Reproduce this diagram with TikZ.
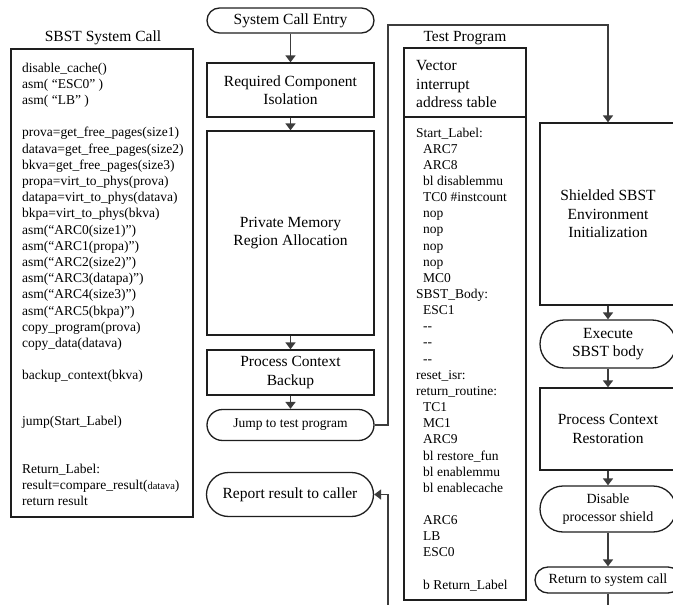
\documentclass[tikz,border=0pt]{standalone}
\usepackage{fontspec}
\setmainfont{Liberation Serif}
\usetikzlibrary{arrows.meta}
\definecolor{conngray}{HTML}{3C3C3C}
\definecolor{boxline}{HTML}{1E1E1E}
\newcommand\scline[3]{\node[code] (s#1) at (22,#2) {#3};}
\newcommand\tpline[3]{\node[code] (t#1) at (#2,{137+16.15*#1}) {#3};}
\begin{document}
\begin{tikzpicture}[x=1pt,y=-1pt,
  box/.style={draw=boxline, line width=1.3pt, fill=white, minimum width=167pt, inner sep=2pt, align=center, font=\fontsize{15.5}{18.5}\selectfont},
  term/.style={box},
  conn/.style={draw=conngray, line width=1.8pt},
  arr/.style={conn, -{Triangle[width=10pt,length=7pt]}},
  code/.style={anchor=base west, inner sep=0pt, font=\fontsize{13.5}{16.2}\selectfont},
  title/.style={inner sep=0pt, font=\fontsize{15.5}{18.5}\selectfont},
]
\useasboundingbox (0,0) rectangle (673,605);

% ---------- left column: SBST System Call ----------
\node[title] (systitle) at (103,38) {SBST System Call};
\node[draw=boxline, line width=1.3pt, minimum width=182pt, minimum height=468pt, inner sep=0pt] (sysbox) at (102,283) {};
\scline{1}{72}{disable\_cache()}
\scline{2}{88.2}{asm( “ESC0” )}
\scline{3}{104.4}{asm( “LB” )}
\scline{5}{136.8}{prova=get\_free\_pages(size1)}
\scline{6}{153}{datava=get\_free\_pages(size2)}
\scline{7}{169.2}{bkva=get\_free\_pages(size3)}
\scline{8}{185.4}{propa=virt\_to\_phys(prova)}
\scline{9}{201.6}{datapa=virt\_to\_phys(datava)}
\scline{10}{217.8}{bkpa=virt\_to\_phys(bkva)}
\scline{11}{234}{asm(“ARC0(size1)”)}
\scline{12}{250.2}{asm(“ARC1(propa)”)}
\scline{13}{266.4}{asm(“ARC2(size2)”)}
\scline{14}{282.6}{asm(“ARC3(datapa)”)}
\scline{15}{298.8}{asm(“ARC4(size3)”)}
\scline{16}{315}{asm(“ARC5(bkpa)”)}
\scline{17}{331.2}{copy\_program(prova)}
\scline{18}{347.4}{copy\_data(datava)}
\scline{20}{379.8}{backup\_context(bkva)}
\scline{22}{425}{jump(Start\_Label)}
\scline{24}{473}{Return\_Label:}
\scline{25}{489}{result=compare\_result({\fontsize{10.5}{12}\selectfont datava})}
\scline{26}{505}{return result}

% ---------- middle column ----------
\node[term, minimum height=25pt, rounded corners=12.5pt] (entry) at (290.5,20.5) {System Call Entry};
\node[box, minimum height=54pt] (rci) at (290.5,90) {Required Component\\Isolation};
\node[box, minimum height=204pt] (pmra) at (290.5,233) {Private Memory\\Region Allocation};
\node[box, minimum height=45pt] (pcb) at (290.5,372.5) {Process Context\\Backup};
\node[term, minimum height=31pt, rounded corners=15.5pt, font=\fontsize{13.5}{16}\selectfont] (jump) at (290.5,425) {Jump to test program};
\node[term, minimum height=44pt, rounded corners=22pt] (report) at (290,494.5) {Report result to caller};

\draw[arr] (entry) -- (rci);
\draw[arr] (rci) -- (pmra);
\draw[arr] (pmra) -- (pcb);
\draw[arr] (pcb) -- (jump);

% ---------- test program ----------
\node[title] (tptitle) at (465,38) {Test Program};
\node[draw=boxline, line width=1.3pt, minimum width=122pt, minimum height=69pt, inner sep=0pt] (vec) at (465,82.5) {};
\node[draw=boxline, line width=1.3pt, minimum width=122pt, minimum height=483pt, inner sep=0pt] (tbody) at (465,358.5) {};
\node[code, font=\fontsize{15.5}{18.5}\selectfont] (v1) at (416,70.5) {Vector};
\node[code, font=\fontsize{15.5}{18.5}\selectfont] (v2) at (416,89) {interrupt};
\node[code, font=\fontsize{15.5}{18.5}\selectfont] (v3) at (416,107.5) {address table};
\tpline{0}{416}{Start\_Label:}
\tpline{1}{423}{ARC7}
\tpline{2}{423}{ARC8}
\tpline{3}{423}{bl disablemmu}
\tpline{4}{423}{TC0 \#instcount}
\tpline{5}{423}{nop}
\tpline{6}{423}{nop}
\tpline{7}{423}{nop}
\tpline{8}{423}{nop}
\tpline{9}{423}{MC0}
\tpline{10}{416}{SBST\_Body:}
\tpline{11}{423}{ESC1}
\tpline{12}{423}{-{}-}
\tpline{13}{423}{-{}-}
\tpline{14}{423}{-{}-}
\tpline{15}{416}{reset\_isr:}
\tpline{16}{416}{return\_routine:}
\tpline{17}{423}{TC1}
\tpline{18}{423}{MC1}
\tpline{19}{423}{ARC9}
\tpline{20}{423}{bl restore\_fun}
\tpline{21}{423}{bl enablemmu}
\tpline{22}{423}{bl enablecache}
\tpline{24}{423}{ARC6}
\tpline{25}{423}{LB}
\tpline{26}{423}{ESC0}
\tpline{28}{423}{b Return\_Label}

% ---------- right column ----------
\node[box, minimum width=136pt, minimum height=182pt] (shield) at (608,214) {Shielded SBST\\Environment\\Initialization};
\node[term, minimum width=136pt, minimum height=48pt, rounded corners=24pt] (exec) at (608,344) {Execute\\SBST body};
\node[box, minimum width=136pt, minimum height=82pt] (pcr) at (608,429) {Process Context\\Restoration};
\node[term, minimum width=136pt, minimum height=46pt, rounded corners=23pt, font=\fontsize{14}{18}\selectfont] (dis) at (608,509) {Disable\\processor shield};
\node[term, minimum width=146pt, minimum height=26pt, rounded corners=13pt, font=\fontsize{14}{17}\selectfont] (ret) at (608,580) {Return to system call};

\draw[arr] (shield) -- (exec);
\draw[arr] (exec) -- (pcr);
\draw[arr] (pcr) -- (dis);
\draw[arr] (dis) -- (ret);

% ---------- long connectors ----------
\coordinate (j1) at (388,425);
\coordinate (j2) at (388,25);
\coordinate (j3) at (608,25);
\draw[arr, line join=miter] (jump.east) -- (j1) -- (j2) -- (j3) -- (shield.north);
\coordinate (rb) at (608,605);
\draw[conn] (ret.south) -- (rb);
\coordinate (r1) at (388,605);
\coordinate (r2) at (388,494.5);
\draw[arr] (r1) -- (r2) -- (report.east);
\end{tikzpicture}
\end{document}
